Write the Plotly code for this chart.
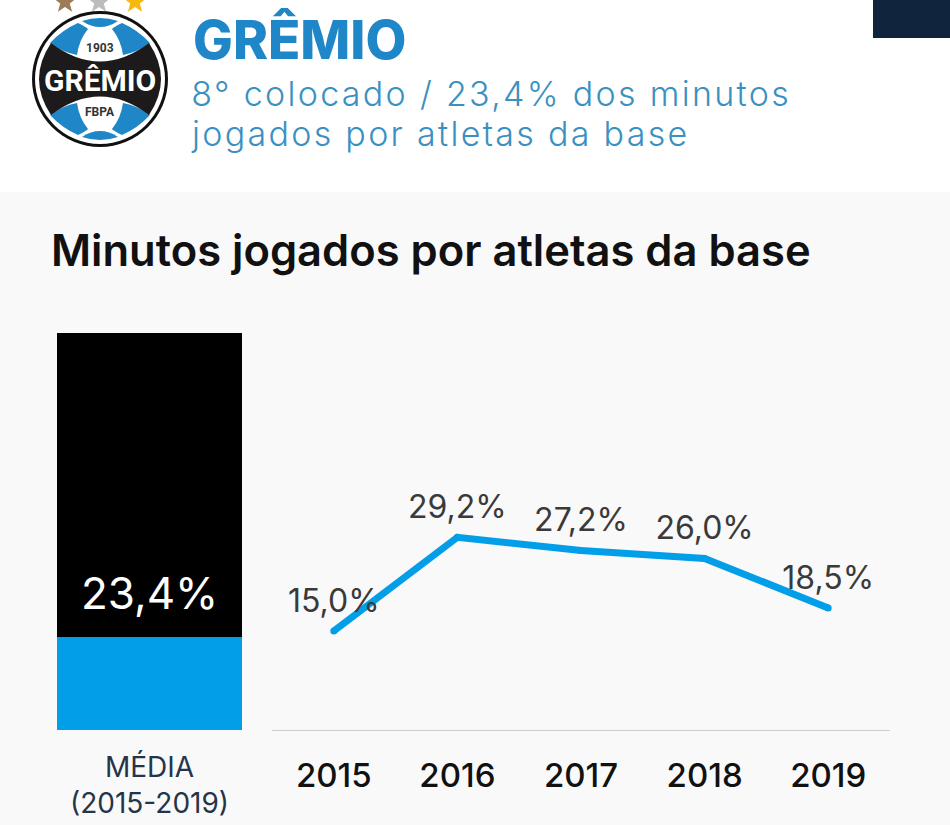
import math
import re
import plotly.graph_objects as go

# values
years = ["2015", "2016", "2017", "2018", "2019"]
minutes_pct = [15.0, 29.2, 27.2, 26.0, 18.5]
mean_label = "MÉDIA<br>(2015-2019)"
mean_pct = [23.4]
rest_pct = [76.6]

title = "Minutos jogados por atletas da base"
team = "GRÊMIO"
subtitle_1 = "8° colocado / 23,4% dos minutos"
subtitle_2 = "jogados por atletas da base"

W, H = 950, 825
BLUE = "#029ee8"
BADGE_BLUE = "#1f86c7"
TEXT_FONT = "Inter"

fig = go.Figure()

# average bar
fig.add_trace(go.Bar(x=[mean_label], y=mean_pct, marker=dict(color=BLUE, line_width=0), width=1,
                     xaxis="x", yaxis="y", showlegend=False))
fig.add_trace(go.Bar(x=[mean_label], y=rest_pct, marker=dict(color="#000000", line_width=0), width=1,
                     xaxis="x", yaxis="y", showlegend=False))

# yearly line
fig.add_trace(go.Scatter(
    x=years, y=minutes_pct, mode="lines+markers",
    line=dict(color=BLUE, width=7), marker=dict(color=BLUE, size=7),
    xaxis="x2", yaxis="y2", showlegend=False,
))
# labels sit on an invisible marker so they clear the line like the original
fig.add_trace(go.Scatter(
    x=years, y=minutes_pct, mode="markers+text",
    marker=dict(size=16, opacity=0),
    text=[f"{v:.1f}%".replace(".", ",") for v in minutes_pct],
    textposition="top center", cliponaxis=False,
    textfont=dict(family=TEXT_FONT, size=32, color="#3a3a3a"),
    xaxis="x2", yaxis="y2", showlegend=False,
))


def px(x):
    return x / W


def py(y):
    return 1 - y / H


def to_paper(path):
    # page furniture is measured in pixels from the top left corner
    return re.sub(r"(-?[\d.]+),(-?[\d.]+)",
                  lambda m: f"{px(float(m[1])):.5f},{py(float(m[2])):.5f}", path)


def star(cx, cy, r):
    pts = []
    for i in range(10):
        rad = r if i % 2 == 0 else r * 0.42
        a = -math.pi / 2 + i * math.pi / 5
        pts.append((cx + rad * math.cos(a), cy + rad * math.sin(a)))
    return "M " + " L ".join(f"{x:.1f},{y:.1f}" for x, y in pts) + " Z"


def blob(path, color):
    fig.add_shape(type="path", path=to_paper(path), xref="paper", yref="paper",
                  layer="below", line_width=0, fillcolor=color)


def box(x0, y0, x1, y1, color, kind="rect"):
    fig.add_shape(type=kind, xref="paper", yref="paper", layer="below", line_width=0,
                  x0=px(x0), x1=px(x1), y0=py(y1), y1=py(y0), fillcolor=color)


def circle(cx, cy, r, color):
    box(cx - r, cy - r, cx + r, cy + r, color, kind="circle")


# page blocks
box(0, 192, 950, 825, "#f9f9f9")
box(873, 0, 950, 38, "#10243e")

# badge
blob(star(65, 2, 12), "#9c7c58")
blob(star(99, 2, 12), "#bcbcbc")
blob(star(135, 2, 12), "#f6b90f")
circle(100, 79, 68, "#111111")
circle(100, 79, 65, "#ffffff")
blob("M 82,21 Q 100,15 118,21 Q 100,33 82,21 Z", BADGE_BLUE)
blob("M 82,137 Q 100,143 118,137 Q 100,125 82,137 Z", BADGE_BLUE)
blob("M 50,43 Q 62,30 78,23 Q 86,27 88,29 Q 79,40 77,55 Q 62,52 50,43 Z", BADGE_BLUE)
blob("M 150,43 Q 138,30 122,23 Q 114,27 112,29 Q 121,40 123,55 Q 138,52 150,43 Z", BADGE_BLUE)
blob("M 50,115 Q 62,128 78,135 Q 86,131 88,129 Q 79,118 77,103 Q 62,106 50,115 Z", BADGE_BLUE)
blob("M 150,115 Q 138,128 122,135 Q 114,131 112,129 Q 121,118 123,103 Q 138,106 150,115 Z", BADGE_BLUE)
blob("M 51,43 Q 100,80 149,43 Q 173,79 149,115 Q 100,78 51,115 Q 27,79 51,43 Z", "#1c1a1a")

# subtitle x includes half of the letter spacing added at the end of the file
notes = [
    dict(x=193, y=40, text=team, size=53, color=BADGE_BLUE, family=TEXT_FONT, weight=800, anchor="left"),
    dict(x=227, y=94, text=subtitle_1, size=34, color="#3b90c2", family=TEXT_FONT, weight=300, anchor="left"),
    dict(x=222, y=133, text=subtitle_2, size=34, color="#3b90c2", family=TEXT_FONT, weight=300, anchor="left"),
    dict(x=51, y=250, text=title, size=43.5, color="#111111", family=TEXT_FONT, weight=600, anchor="left"),
    dict(x=149, y=593, text="23,4%", size=44, color="#ffffff", family=TEXT_FONT, weight=400, anchor="center"),
    dict(x=100, y=48, text="1903", size=12, color="#333333", family="Roboto", weight=700, anchor="center"),
    dict(x=100, y=112, text="FBPA", size=12, color="#333333", family="Roboto", weight=700, anchor="center"),
    dict(x=100, y=81, text="GRÊMIO", size=30, color="#ffffff", family="Roboto", weight=700, anchor="center"),
]
for n in notes:
    fig.add_annotation(
        xref="paper", yref="paper", x=px(n["x"]), y=py(n["y"]), text=n["text"], showarrow=False,
        xanchor=n["anchor"], yanchor="middle", borderpad=0, borderwidth=0,
        font=dict(family=n["family"], size=n["size"], color=n["color"], weight=n["weight"]),
    )

plot_y = [(H - 730) / H, (H - 333) / H]

fig.update_layout(
    width=W, height=H, margin=dict(l=0, r=0, t=0, b=0),
    paper_bgcolor="#ffffff", plot_bgcolor="rgba(0,0,0,0)",
    barmode="stack", showlegend=False,
    xaxis=dict(domain=[57 / W, 242 / W], type="category", ticks="", showgrid=False, zeroline=False,
               showline=False, ticklabelstandoff=18,
               tickfont=dict(family=TEXT_FONT, size=28, color="#26344a")),
    yaxis=dict(domain=plot_y, range=[0, 100], visible=False),
    xaxis2=dict(domain=[272 / W, 890 / W], type="category", anchor="y2", ticks="", showgrid=False,
                range=[-0.5, 4.5], zeroline=False, showline=True, linecolor="#cccccc", linewidth=1,
                ticklabelstandoff=16, tickfont=dict(family=TEXT_FONT, size=33, weight=500, color="#111111")),
    yaxis2=dict(domain=plot_y, range=[0, 60.15], visible=False, anchor="x2"),
)

# the subtitle is letter-spaced in the original
spacing = """
document.body.style.margin = '0';
document.querySelectorAll('.annotation-text').forEach(function (t) {
  if (t.textContent.indexOf('colocado') >= 0 || t.textContent.indexOf('jogados por atletas da base') === 0) {
    t.style.letterSpacing = '2.3px';
  }
});
"""
fig.write_html("out.html", config=dict(displayModeBar=False), post_script=spacing)
